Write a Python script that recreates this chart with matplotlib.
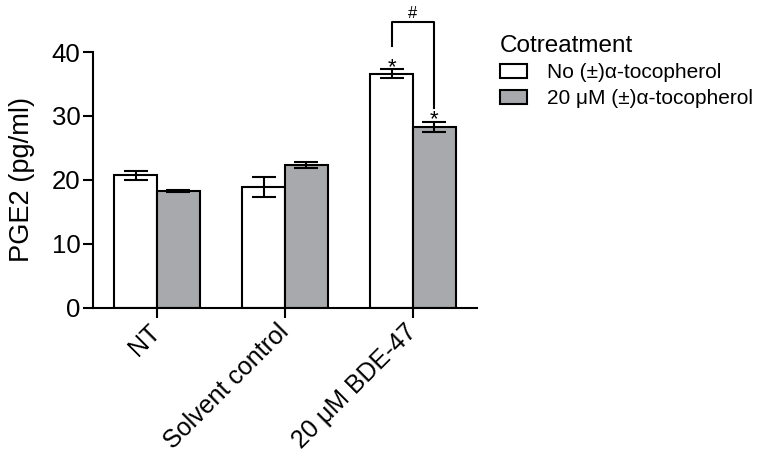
import numpy as np
import matplotlib
matplotlib.use('Agg')
import matplotlib.pyplot as plt
from matplotlib.patches import Patch

plt.rcParams['font.family'] = ['Liberation Sans', 'DejaVu Sans']

groups = ['NT', 'Solvent control', '20 \u03bcM BDE-47']
series = ['No (\u00b1)\u03b1-tocopherol', '20 \u03bcM (\u00b1)\u03b1-tocopherol']
no_toco = [20.7, 18.9, 36.6]
no_toco_err = [0.65, 1.6, 0.7]
with_toco = [18.3, 22.3, 28.3]
with_toco_err = [0.12, 0.45, 0.8]
gray = '#a7a9ac'

fig = plt.figure(figsize=(7.64, 4.61), dpi=100)
ax = fig.add_axes([0.1217, 0.3325, 0.5026, 0.5545])

x = np.arange(len(groups))
w = 1 / 3
ekw = dict(fmt='none', ecolor='black', elinewidth=1.5, capsize=8.3, capthick=1.5)
ax.bar(x - w / 2, no_toco, w, color='white', edgecolor='black', linewidth=1.5, zorder=2)
ax.errorbar(x - w / 2, no_toco, yerr=no_toco_err, zorder=3, **ekw)
ax.bar(x + w / 2, with_toco, w, color=gray, edgecolor='black', linewidth=1.5, zorder=2)
ax.errorbar(x + w / 2, with_toco, yerr=with_toco_err, zorder=3, **ekw)

ax.set_xlim(-0.5, 2.5)
ax.set_ylim(0, 40)
ax.set_yticks([0, 10, 20, 30, 40])
ax.set_xticks(x)
ax.set_xticklabels(groups, rotation=45, ha='right', va='center', rotation_mode='anchor')
ax.tick_params(axis='both', labelsize=18.5, width=1.5, length=7, direction='out')
ax.tick_params(axis='x', labelsize=18)
ax.tick_params(axis='y', pad=2)
ax.tick_params(axis='x', pad=8)
for s in ['top', 'right']:
    ax.spines[s].set_visible(False)
for s in ['left', 'bottom']:
    ax.spines[s].set_linewidth(1.5)
ax.set_ylabel('PGE2 (pg/ml)', fontsize=19.6, labelpad=12)

# significance marks on BDE-47 group
i = 2
xl, xr = x[i] - w / 2, x[i] + w / 2
ax.text(xl, no_toco[i] + no_toco_err[i] + 0.2, '*', ha='center', va='center', fontsize=16)
ax.text(xr, with_toco[i] + with_toco_err[i] + 0.4, '*', ha='center', va='center', fontsize=16)
top = 44.7
ax.plot([xl, xl, xr, xr], [no_toco[i] + no_toco_err[i] + 3.6, top, top, with_toco[i] + with_toco_err[i] + 2.2],
        color='black', lw=1.5, clip_on=False)
ax.text(x[i], top + 0.2, '#', ha='center', va='bottom', fontsize=12)

handles = [Patch(facecolor='white', edgecolor='black', linewidth=1.5),
           Patch(facecolor=gray, edgecolor='black', linewidth=1.5)]
leg = ax.legend(handles, series, title='Cotreatment', loc='upper left',
                bbox_to_anchor=(0.654, 0.925), bbox_transform=fig.transFigure,
                frameon=False, fontsize=15, title_fontsize=17.5, alignment='left',
                handlelength=1.3, handleheight=0.7, handletextpad=0.95,
                labelspacing=0.33, borderpad=0, borderaxespad=0)

fig.savefig('out.png', dpi=100)
